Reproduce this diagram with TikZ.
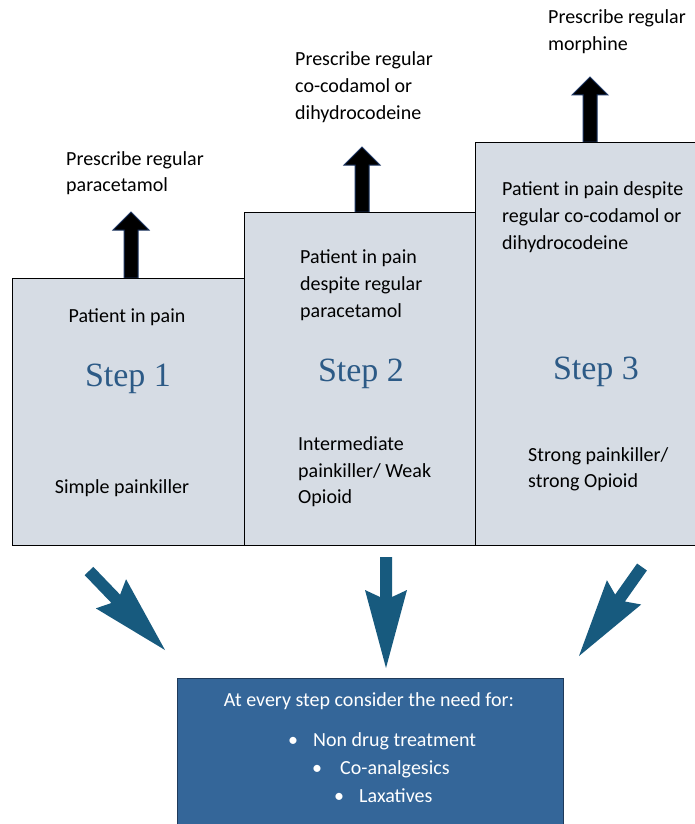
\documentclass[tikz,border=0pt]{standalone}
\usepackage{fontspec}
\setmainfont{Carlito}
\newfontfamily\stepfont{Liberation Serif}
\usetikzlibrary{calc}
\definecolor{boxfill}{HTML}{D6DCE4}
\definecolor{stepblue}{HTML}{2C5A86}
\definecolor{arrowblue}{HTML}{175A7E}
\definecolor{panelblue}{HTML}{346699}
\definecolor{panelborder}{HTML}{1F3A5A}
\definecolor{navyline}{HTML}{1F3864}
% #1 style, #2 tail, #3 tip, #4 shaft half width, #5 head half width, #6 barb distance, #7 junction distance
\newcommand\fatarrow[7]{%
  \coordinate (fa-j) at ($(#3)!#7!(#2)$);
  \coordinate (fa-b) at ($(#3)!#6!(#2)$);
  \path[#1] ($(#2)!#4!90:(#3)$) -- ($(fa-j)!#4!90:(#3)$) -- ($(fa-b)!#5!90:(#3)$) -- (#3)
     -- ($(fa-b)!#5!-90:(#3)$) -- ($(fa-j)!#4!-90:(#3)$) -- ($(#2)!#4!-90:(#3)$) -- cycle;}
\begin{document}
\begin{tikzpicture}[x=1pt,y=-1pt,
  stepbox/.style={draw=black, line width=1.2pt, fill=boxfill, anchor=north west, inner sep=0},
  lbl/.style={font=\fontsize{20}{27}\selectfont, inner sep=0, anchor=base west},
  clbl/.style={font=\fontsize{20}{27}\selectfont, inner sep=0, anchor=base},
  steplbl/.style={font=\stepfont\fontsize{34}{40}\selectfont, text=stepblue, inner sep=0, anchor=base},
  wlbl/.style={font=\fontsize{20}{27}\selectfont, text=white, inner sep=0, anchor=base west},
  blackarrow/.style={fill=black, draw=navyline, line width=1pt, line join=miter},
  bluearrow/.style={fill=arrowblue}]
\useasboundingbox (0,0) rectangle (695,824);
\fill[white] (0,0) rectangle (695,824);

% black up arrows
\coordinate (a1t) at (131,278); \coordinate (a1h) at (131,212);
\coordinate (a2t) at (362,212); \coordinate (a2h) at (362,147);
\coordinate (a3t) at (590,142); \coordinate (a3h) at (590,77);
\fatarrow{blackarrow}{a1t}{a1h}{7pt}{18pt}{18pt}{18pt}
\fatarrow{blackarrow}{a2t}{a2h}{7pt}{18pt}{18pt}{18pt}
\fatarrow{blackarrow}{a3t}{a3h}{7pt}{18pt}{18pt}{18pt}

% step boxes
\node[stepbox, minimum width=232pt, minimum height=267pt] (b1) at (12,278) {};
\node[stepbox, minimum width=231pt, minimum height=333pt] (b2) at (244,212) {};
\node[stepbox, minimum width=224pt, minimum height=403pt] (b3) at (475,142) {};

% labels above
\node[lbl] (p1a) at (66,165) {Prescribe regular};
\node[lbl] (p1b) at (66,191) {paracetamol};
\node[lbl] (p2a) at (295,66) {Prescribe regular};
\node[lbl] (p2b) at (295,93) {co-codamol or};
\node[lbl] (p2c) at (295,120) {dihydrocodeine};
\node[lbl] (p3a) at (548,24) {Prescribe regular};
\node[lbl] (p3b) at (548,51) {morphine};

% box 1
\node[clbl] (s1a) at (127,322) {Patient in pain};
\node[steplbl] (s1) at (128,386) {Step 1};
\node[clbl] (s1b) at (122,493) {Simple painkiller};
% box 2
\node[lbl] (s2a) at (300,263) {Patient in pain};
\node[lbl] (s2b) at (300,290) {despite regular};
\node[lbl] (s2c) at (300,317) {paracetamol};
\node[steplbl] (s2) at (361,381) {Step 2};
\node[lbl] (s2d) at (298,450) {Intermediate};
\node[lbl] (s2e) at (298,477) {painkiller/ Weak};
\node[lbl] (s2f) at (298,503) {Opioid};
% box 3
\node[lbl] (s3a) at (502,195) {Patient in pain despite};
\node[lbl] (s3b) at (502,222) {regular co-codamol or};
\node[lbl] (s3c) at (502,249) {dihydrocodeine};
\node[steplbl] (s3) at (596,379) {Step 3};
\node[lbl] (s3d) at (528,461) {Strong painkiller/};
\node[lbl] (s3e) at (528,487) {strong Opioid};

% blue arrows
\coordinate (l1t) at (89,571);  \coordinate (l1h) at (165,650);
\coordinate (l2t) at (386,557); \coordinate (l2h) at (386,668);
\coordinate (l3t) at (642,567); \coordinate (l3h) at (579,656);
\fatarrow{bluearrow}{l1t}{l1h}{6pt}{21pt}{78pt}{71pt}
\fatarrow{bluearrow}{l2t}{l2h}{6pt}{21pt}{78pt}{71pt}
\fatarrow{bluearrow}{l3t}{l3h}{6pt}{21pt}{78pt}{71pt}

% bottom panel
\node[draw=panelborder, line width=1.2pt, fill=panelblue, anchor=north west, inner sep=0,
      minimum width=386pt, minimum height=160pt] (panel) at (177,678) {};
\node[font=\fontsize{20}{27}\selectfont, text=white, inner sep=0, anchor=base] (pt) at (369,706) {At every step consider the need for:};
\node[wlbl] (q1) at (288,746) {\makebox[10pt]{•}\hspace{15pt}Non drug treatment};
\node[wlbl] (q2) at (312,774) {\makebox[10pt]{•}\hspace{18pt}Co-analgesics};
\node[wlbl] (q3) at (334,802) {\makebox[10pt]{•}\hspace{15pt}Laxatives};
\end{tikzpicture}
\end{document}
